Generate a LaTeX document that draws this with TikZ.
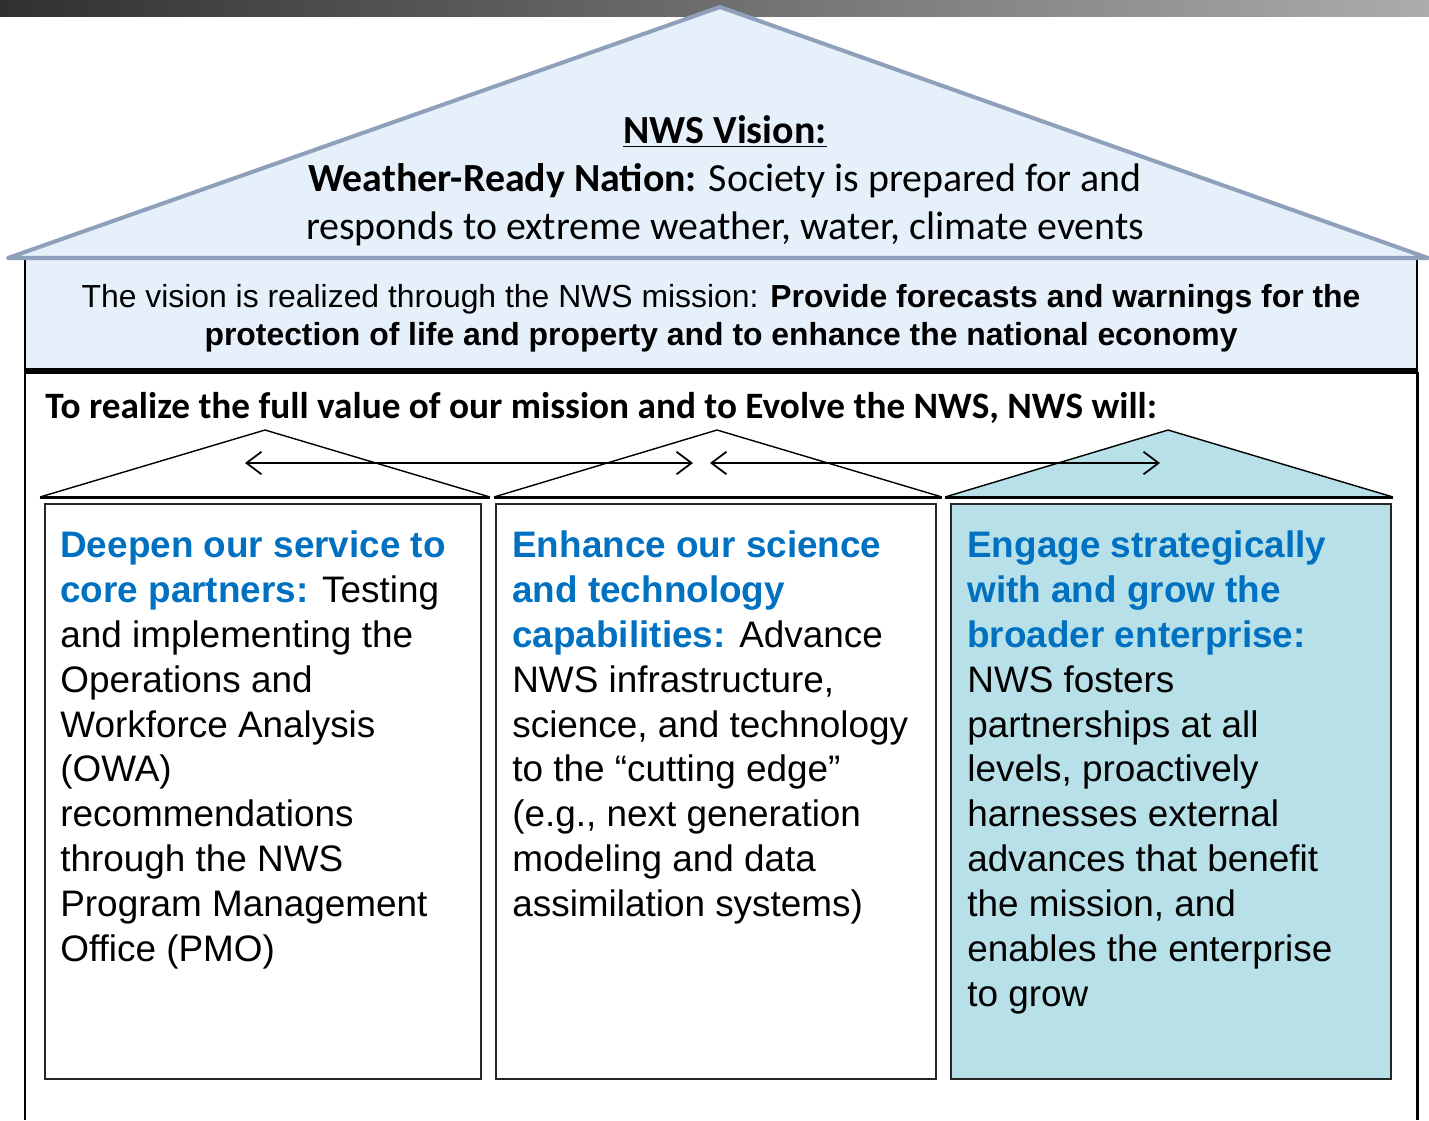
\documentclass[tikz,border=0pt]{standalone}
\usepackage{fontspec}
\setmainfont{Liberation Sans}
\newfontfamily\calibri{Carlito}
\usetikzlibrary{arrows.meta,positioning}

\definecolor{roofblue}{RGB}{230,240,250}
\definecolor{roofedge}{RGB}{142,160,186}
\definecolor{goalteal}{RGB}{183,224,232}
\definecolor{goalblue}{RGB}{0,112,192}
\definecolor{bardark}{RGB}{48,48,48}
\definecolor{barlight}{RGB}{172,172,172}

\newcommand{\goalhead}{\bfseries\color{goalblue}}

\tikzset{
  goalbox/.style={draw=black!85, line width=1pt, anchor=north west, minimum height=11.5cm},
  goaltext/.style={anchor=north west, inner sep=0pt, align=left, font=\fontsize{21}{25.6}\selectfont},
  pillar/.style={draw=black, line width=0.8pt, line join=round},
  dblarrow/.style={{Straight Barb[length=3mm,width=4.5mm]}-{Straight Barb[length=3mm,width=4.5mm]}, line width=1pt},
}

\begin{document}
\begin{tikzpicture}[x=0.02cm, y=-0.02cm]
\useasboundingbox (0,0) rectangle (1429,1120);

\shade[left color=bardark, right color=barlight] (0,0) rectangle (1429,16);

% mission box and roof
\filldraw[fill=roofblue, draw=black, line width=1.6pt] (25,258) rectangle (1417,372);
\draw[line width=3pt] (25,371) -- (1417,371);
\filldraw[fill=roofblue, draw=roofedge, line width=2.3pt, line join=round] (8,258) -- (720,7) -- (1428,258) -- cycle;

\node[align=center, font=\calibri\fontsize{22.7}{27.3}\selectfont] (vision) at (725,181)
  {\textbf{\underline{NWS Vision:}}\\
   \textbf{Weather-Ready Nation:} Society is prepared for and\\
   responds to extreme weather, water, climate events};

\node[align=center, font=\fontsize{18.15}{21.6}\selectfont] (mission) at (721,318)
  {The vision is realized through the NWS mission: \textbf{Provide forecasts and warnings for the}\\
   \textbf{protection of life and property and to enhance the national economy}};

% outer frame
\draw[line width=1.7pt] (25,372) -- (25,1120);
\draw[line width=1.7pt] (1417,372) -- (1417,1120);

\node[anchor=base west, inner sep=0pt, font=\calibri\bfseries\fontsize{21.2}{25}\selectfont] (will) at (45,418)
  {To realize the full value of our mission and to Evolve the NWS, NWS will:};

% small roofs
\draw[pillar] (40,497) -- (265,430) -- (490,497);
\draw[pillar] (494,497) -- (717,430) -- (942,497);
\filldraw[pillar, fill=goalteal] (945,497) -- (1168,430) -- (1393,497);
\draw[line width=1.7pt] (40,497) -- (490,497);
\draw[line width=1.7pt] (494,497) -- (942,497);
\draw[line width=1.7pt] (945,497) -- (1393,497);

\coordinate (a1) at (245,463);
\coordinate (b1) at (693,463);
\coordinate (a2) at (710,463);
\coordinate (b2) at (1160,463);
\draw[dblarrow] (a1) -- (b1);
\draw[dblarrow] (a2) -- (b2);

% goal 1
\node[goalbox, minimum width=8.72cm] (g1) at (44,503) {};
\node[goaltext] (t1) at ([shift={(16,27)}]g1.north west)
  {{\goalhead Deepen our service to}\\
   {\goalhead core partners:} Testing\\
   and implementing the\\
   Operations and\\
   Workforce Analysis\\
   (OWA)\\
   recommendations\\
   through the NWS\\
   Program Management\\
   Office (PMO)};

% goal 2
\node[goalbox, minimum width=8.8cm] (g2) at (495,503) {};
\node[goaltext] (t2) at ([shift={(17,27)}]g2.north west)
  {{\goalhead Enhance our science}\\
   {\goalhead and technology}\\
   {\goalhead capabilities:} Advance\\
   NWS infrastructure,\\
   science, and technology\\
   to the “cutting edge”\\
   (e.g., next generation\\
   modeling and data\\
   assimilation systems)};

% goal 3
\node[goalbox, fill=goalteal, minimum width=8.8cm] (g3) at (950,503) {};
\node[goaltext] (t3) at ([shift={(17,27)}]g3.north west)
  {{\goalhead Engage strategically}\\
   {\goalhead with and grow the}\\
   {\goalhead broader enterprise:}\\
   NWS fosters\\
   partnerships at all\\
   levels, proactively\\
   harnesses external\\
   advances that benefit\\
   the mission, and\\
   enables the enterprise\\
   to grow};

\end{tikzpicture}
\end{document}
